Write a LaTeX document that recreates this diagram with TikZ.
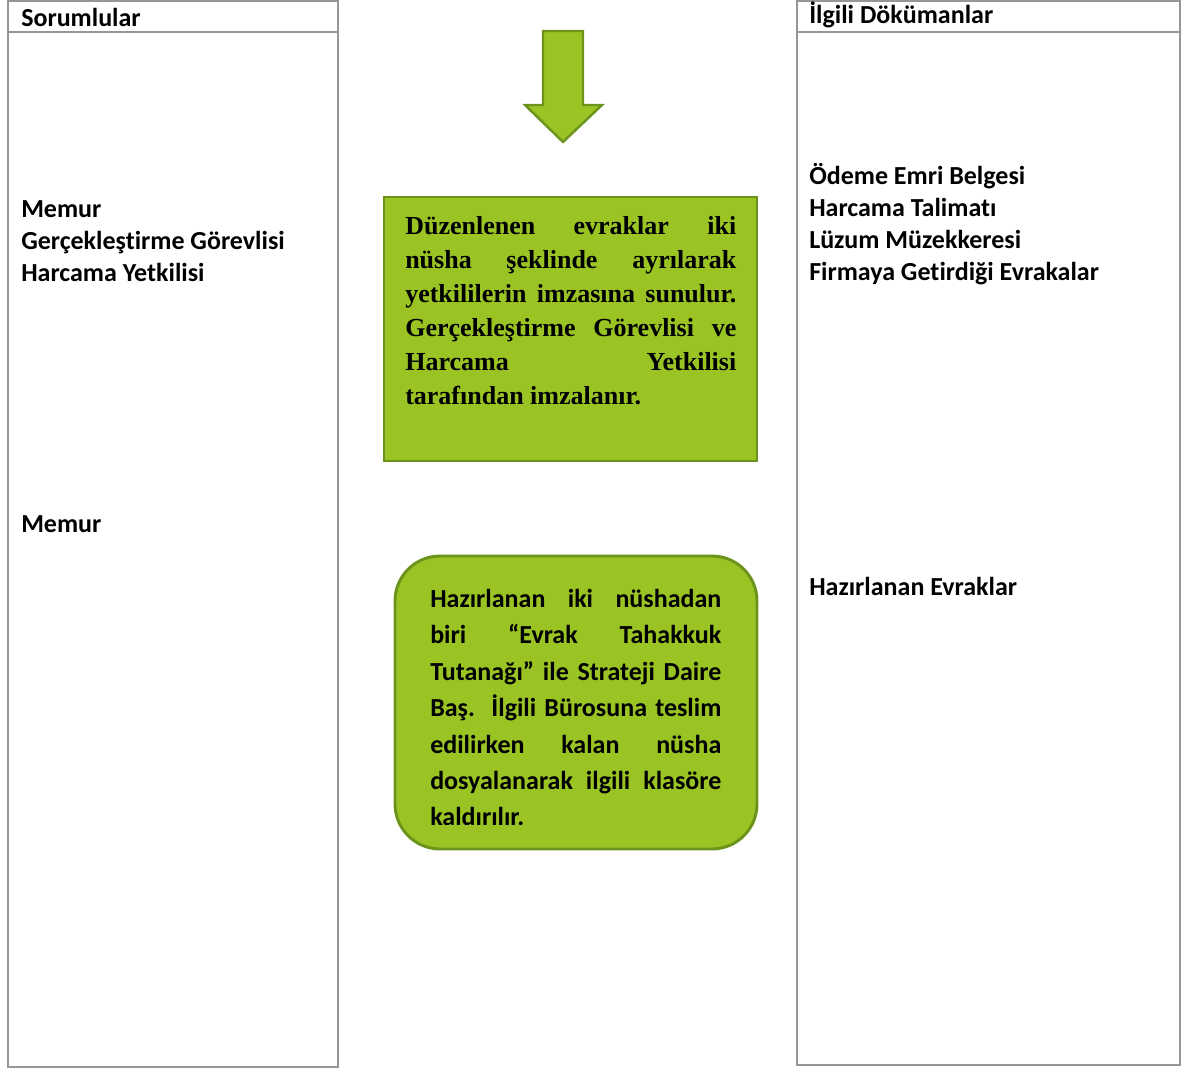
\documentclass[tikz,border=0pt]{standalone}
\usepackage{fontspec}
\setmainfont{Carlito}[Ligatures={NoCommon}]
\newfontfamily\serifbold{Liberation Serif}
\definecolor{framegray}{RGB}{150,150,150}
\definecolor{boxgreen}{RGB}{154,196,36}
\definecolor{boxedge}{RGB}{108,148,28}

\tikzset{
  colframe/.style={draw=framegray, line width=1.5pt},
  coltext/.style={anchor=west, inner sep=0.75pt, font=\fontsize{19.5}{24}\bfseries\selectfont, align=left},
  greenbox/.style={fill=boxgreen, draw=boxedge, line width=2.2pt, inner sep=0pt},
}

\begin{document}
\begin{tikzpicture}[x=0.75pt,y=0.75pt,yscale=-1,xscale=1]
\useasboundingbox (0,0) rectangle (1187,1070);

%Columns
\draw[colframe] (8,1) rectangle (338,1067);
\draw[colframe] (8,32) -- (338,32);
\draw[colframe] (797,1) rectangle (1180,1065);
\draw[colframe] (797,32) -- (1180,32);

%Down arrow
\draw[greenbox, line width=1.8pt, line join=miter] (543,31) -- (583,31) -- (583,105) -- (602,105) -- (563,142) -- (525,105) -- (543,105) -- cycle;

%Rectangle box
\node[greenbox, minimum width=373*0.75pt, minimum height=264*0.75pt] (imza) at (570.5,329) {};
% Text Node
\node[anchor=north west, inner sep=0pt, text width=331*0.75pt, align=justify,
  font=\serifbold\fontsize{19.5}{25.5}\bfseries\selectfont] (imzaText) at (405,216)
  {Düzenlenen evraklar iki\linebreak nüsha şeklinde ayrılarak\linebreak yetkililerin imzasına sunulur.\linebreak Gerçekleştirme Görevlisi ve\linebreak Harcama Yetkilisi\linebreak tarafından imzalanır.};

%Rounded box
\node[greenbox, rounded corners=45*0.75pt, minimum width=362*0.75pt, minimum height=293*0.75pt] (teslim) at (576,702.5) {};
\begin{scope}
\clip (395,556) rectangle (757,824);
% Text Node
\node[anchor=north west, inner sep=0pt, text width=291*0.75pt, align=justify,
  font=\fontsize{19.5}{27.3}\bfseries\selectfont] (teslimText) at (430,589)
  {Hazırlanan iki nüshadan\linebreak biri “Evrak Tahakkuk\linebreak Tutanağı” ile Strateji Daire\linebreak Baş.\ \ İlgili Bürosuna teslim\linebreak edilirken kalan nüsha\linebreak dosyalanarak ilgili klasöre\linebreak kaldırılır.};
\end{scope}

% Text Node
\node[coltext] (sorumlular) at (20,17) {Sorumlular};
% Text Node
\node[coltext] (belgeler) at (808,15) {İlgili Dökümanlar};
% Text Node
\node[coltext, anchor=north west] (sorumlu1) at (20,199) {Memur\\Gerçekleştirme Görevlisi\\Harcama Yetkilisi};
% Text Node
\node[coltext] (sorumlu2) at (20,524) {Memur};
% Text Node
\node[coltext, anchor=north west] (belge1) at (808,162) {Ödeme Emri Belgesi\\Harcama Talimatı\\Lüzum Müzekkeresi\\Firmaya Getirdiği Evrakalar};
% Text Node
\node[coltext] (belge2) at (808,586) {Hazırlanan Evraklar};

\end{tikzpicture}
\end{document}
